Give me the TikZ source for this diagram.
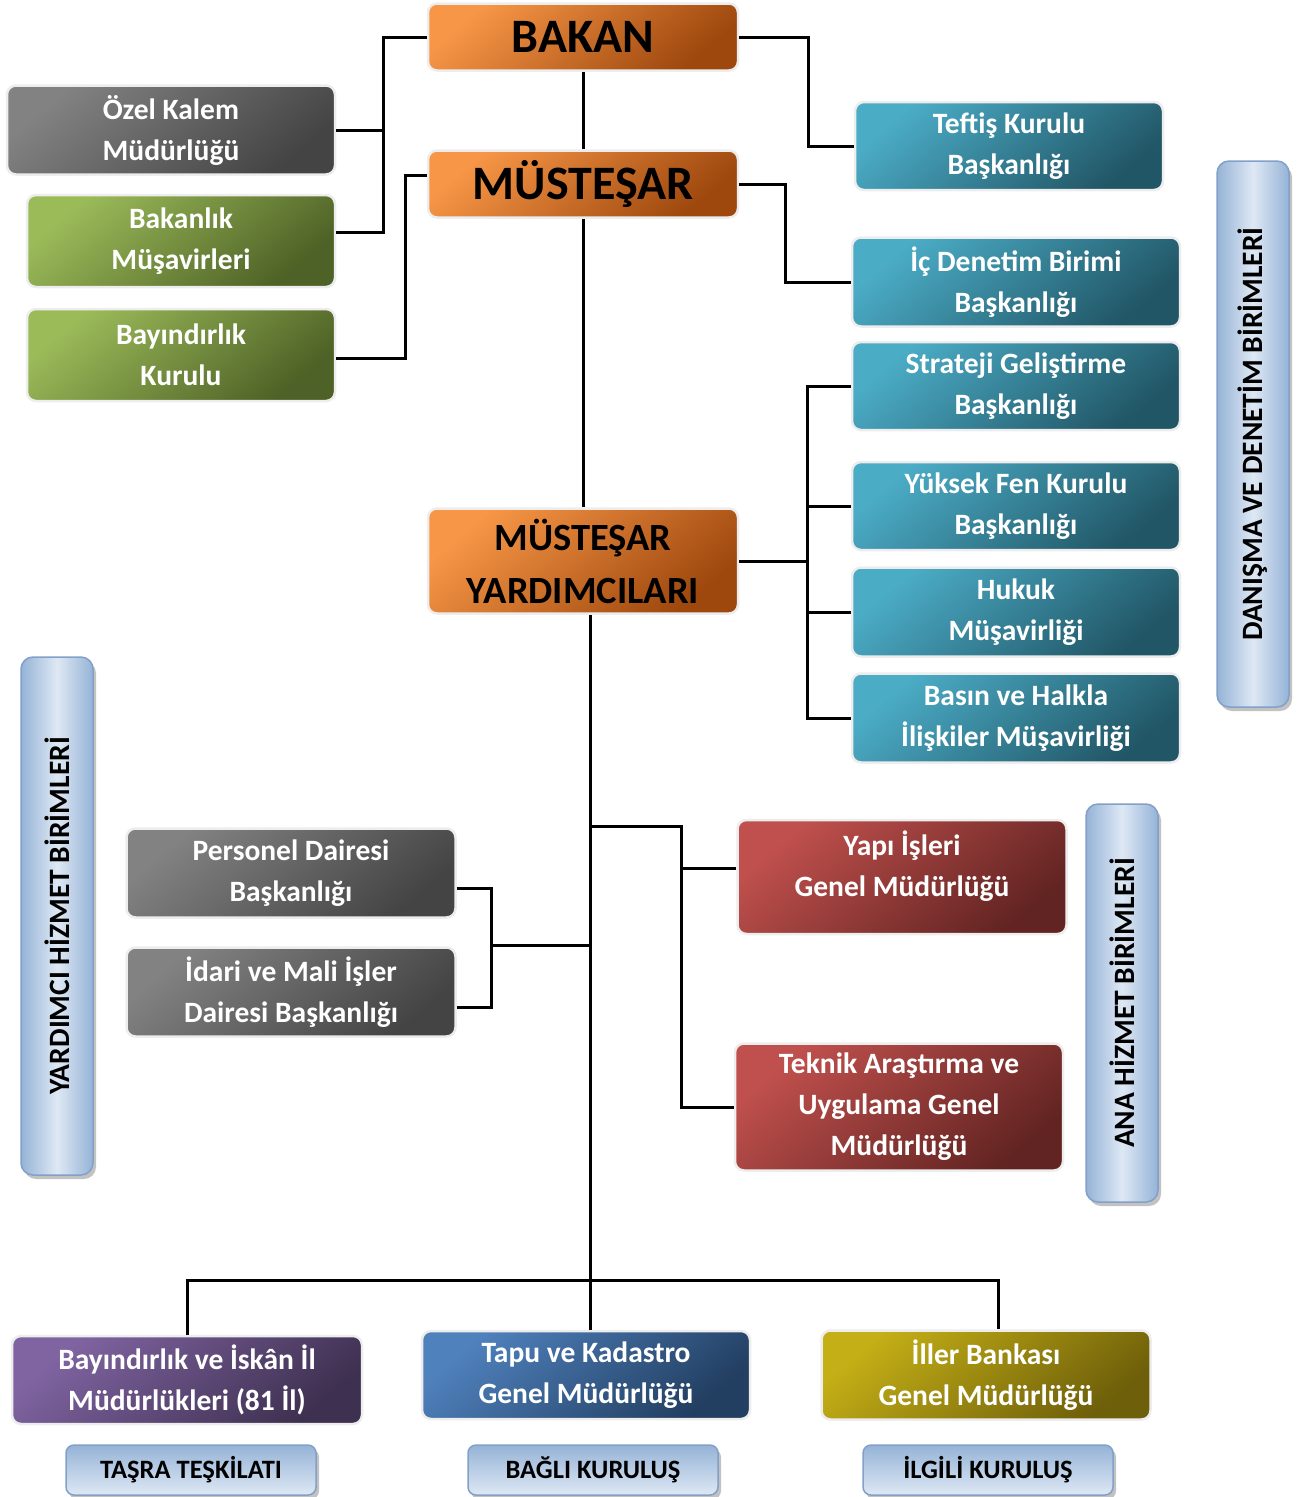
\documentclass[tikz,border=0pt]{standalone}
\usepackage{fontspec}
\setmainfont{Carlito}
\usetikzlibrary{calc, shadows}
\definecolor{orangeLight}{RGB}{247, 150, 70}
\definecolor{orangeDark}{RGB}{158, 72, 14}
\definecolor{greyLight}{RGB}{130, 130, 130}
\definecolor{greyDark}{RGB}{68, 68, 68}
\definecolor{greenLight}{RGB}{155, 187, 89}
\definecolor{greenDark}{RGB}{78, 97, 38}
\definecolor{tealLight}{RGB}{75, 172, 198}
\definecolor{tealDark}{RGB}{33, 86, 102}
\definecolor{redLight}{RGB}{192, 80, 77}
\definecolor{redDark}{RGB}{98, 36, 34}
\definecolor{purpleLight}{RGB}{128, 100, 162}
\definecolor{purpleDark}{RGB}{62, 48, 80}
\definecolor{blueLight}{RGB}{79, 129, 189}
\definecolor{blueDark}{RGB}{34, 62, 96}
\definecolor{oliveLight}{RGB}{196, 175, 22}
\definecolor{oliveDark}{RGB}{110, 95, 10}
\definecolor{barEdge}{RGB}{149, 179, 215}
\definecolor{barMid}{RGB}{222, 232, 244}
\definecolor{barLine}{RGB}{130, 160, 200}

\begin{document}
\begin{tikzpicture} [x=1pt, y=-1pt,
        unit/.style={rectangle, rounded corners=9pt, draw=black!7, line width=2.5pt, align=center,
            inner sep=0pt, text=white, font=\bfseries\fontsize{29.5}{41}\selectfont},
        wh/.style 2 args={minimum width=#1pt, minimum height=#2pt},
        chief/.style={unit, top color=orangeLight, bottom color=orangeDark, shading angle=40, text=black,
            font=\bfseries\fontsize{48}{50}\selectfont},
        greybox/.style={unit, top color=greyLight, bottom color=greyDark, shading angle=40},
        greenbox/.style={unit, top color=greenLight, bottom color=greenDark, shading angle=40},
        tealbox/.style={unit, top color=tealLight, bottom color=tealDark, shading angle=40},
        redbox/.style={unit, top color=redLight, bottom color=redDark, shading angle=40},
        purplebox/.style={unit, top color=purpleLight, bottom color=purpleDark, shading angle=40},
        bluebox/.style={unit, top color=blueLight, bottom color=blueDark, shading angle=40},
        olivebox/.style={unit, top color=oliveLight, bottom color=oliveDark, shading angle=40},
        sidebar/.style={rectangle, rounded corners=12pt, draw=barLine, line width=1.5pt,
            left color=barEdge, right color=barEdge, middle color=barMid, inner sep=0pt,
            drop shadow={shadow xshift=3pt, shadow yshift=-4pt, fill=black!60, opacity=0.4},
            font=\bfseries\fontsize{29.5}{30}\selectfont},
        tagbar/.style={rectangle, rounded corners=8pt, draw=barLine, line width=1.5pt,
            top color=barEdge, bottom color=barMid, inner sep=0pt, minimum width=250pt, minimum height=50pt,
            drop shadow={shadow xshift=3pt, shadow yshift=-4pt, fill=black!60, opacity=0.4},
            font=\bfseries\fontsize{26.5}{28}\selectfont},
        link/.style={draw=black, line width=3pt}
    ]
        \useasboundingbox (0, 0) rectangle (1301, 1497);

        % top level
        \node [chief, wh={310}{67}] (bakan) at (583, 37) {BAKAN};
        \node [chief, wh={310}{67}] (mustesar) at (583, 184) {MÜSTEŞAR};
        \node [chief, wh={310}{105}, font=\bfseries\fontsize{38.5}{53}\selectfont] (yardimci) at (583, 561) {MÜSTEŞAR\\YARDIMCILARI};

        % left of the minister
        \node [greybox, wh={328}{89}] (ozel) at (171, 130) {Özel Kalem\\Müdürlüğü};
        \node [greenbox, wh={308}{92}] (musavir) at (181, 241) {Bakanlık\\Müşavirleri};
        \node [greenbox, wh={308}{92}] (kurul) at (181, 355) {Bayındırlık\\Kurulu};

        % danisma ve denetim
        \node [tealbox, wh={308}{88}] (teftis) at (1009, 146) {Teftiş Kurulu\\Başkanlığı};
        \node [tealbox, wh={328}{89}] (icdenetim) at (1016, 282) {İç Denetim Birimi\\Başkanlığı};
        \node [tealbox, wh={328}{88}] (strateji) at (1016, 386) {Strateji Geliştirme\\Başkanlığı};
        \node [tealbox, wh={328}{88}] (yuksek) at (1016, 506) {Yüksek Fen Kurulu\\Başkanlığı};
        \node [tealbox, wh={328}{89}] (hukuk) at (1016, 612) {Hukuk\\Müşavirliği};
        \node [tealbox, wh={328}{89}] (basin) at (1016, 718) {Basın ve Halkla\\İlişkiler Müşavirliği};

        % ana hizmet
        \node [redbox, wh={329}{114}] (yapi) at (902, 877) {Yapı İşleri\\Genel Müdürlüğü\\[-15pt]};
        \node [redbox, wh={328}{127}] (teknik) at (899, 1107) {Teknik Araştırma ve\\Uygulama Genel\\Müdürlüğü};

        % yardimci hizmet
        \node [greybox, wh={329}{89}] (personel) at (291, 873) {Personel Dairesi\\Başkanlığı};
        \node [greybox, wh={329}{89}] (idari) at (291, 992) {İdari ve Mali İşler\\Dairesi Başkanlığı};

        % tasra, bagli, ilgili
        \node [purplebox, wh={350}{88}] (iskan) at (187, 1380) {Bayındırlık ve İskân İl\\Müdürlükleri (81 İl)};
        \node [bluebox, wh={328}{88}] (tapu) at (586, 1375) {Tapu ve Kadastro\\Genel Müdürlüğü};
        \node [olivebox, wh={329}{89}] (iller) at (986, 1375) {İller Bankası\\Genel Müdürlüğü};

        % group labels
        \node [sidebar, wh={72}{546}] (danisma) at (1253, 434) {\rotatebox{90}{DANIŞMA VE DENETİM BİRİMLERİ}};
        \node [sidebar, wh={72}{398}] (anahizmet) at (1122, 1003) {\rotatebox{90}{ANA HİZMET BİRİMLERİ}};
        \node [sidebar, wh={72}{518}] (yardimcihizmet) at (57, 916) {\rotatebox{90}{YARDIMCI HİZMET BİRİMLERİ}};
        \node [tagbar] (tasra) at (191, 1470) {TAŞRA TEŞKİLATI};
        \node [tagbar] (bagli) at (593, 1470) {BAĞLI KURULUŞ};
        \node [tagbar] (ilgili) at (988, 1470) {İLGİLİ KURULUŞ};

        % connectors
        \coordinate (bL) at (382, 0);
        \coordinate (bR) at (808, 0);
        \coordinate (mR) at (785, 0);
        \coordinate (yR) at (807, 0);
        \coordinate (trunk) at (590, 0);
        \coordinate (aR) at (681, 826);
        \coordinate (pL) at (490, 945);
        \coordinate (bus) at (590, 1280);

        \draw [link] (bakan.west) -| ($ (musavir.east) + (47, -9) $) -- ($ (musavir.east) + (0, -9) $);
        \draw [link] (ozel.east) -- (ozel.east -| bL);
        \draw [link] ([yshift=9pt]mustesar.west) -| ($ (kurul.east) + (69, 3) $) -- ($ (kurul.east) + (0, 3) $);
        \draw [link] (bakan.south) -- (mustesar.north);
        \draw [link] (bakan.east) -| (bR |- teftis.west) -- (teftis.west);
        \draw [link] (mustesar.east) -| (mR |- icdenetim.west) -- (icdenetim.west);
        \draw [link] (mustesar.south) -- (yardimci.north);

        \draw [link] (yardimci.east) -- (yardimci.east -| yR);
        \draw [link] (strateji.west) -| (yR |- basin.west) -- (basin.west);
        \foreach \n in {yuksek, hukuk} {
            \draw [link] (\n.west) -- (\n.west -| yR);
        }

        \draw [link] (yardimci.south -| trunk) -- (tapu.north -| trunk);
        \draw [link] (trunk |- aR) -- (aR) |- (teknik.west);
        \draw [link] ([yshift=9pt]yapi.west) -- ([yshift=9pt]yapi.west -| aR);
        \draw [link] (trunk |- pL) -- (pL);
        \draw [link] ($ (personel.east) + (0, 15) $) -| ($ (idari.east) + (35, 15) $) -- ($ (idari.east) + (0, 15) $);

        \draw [link] (iskan.north) |- ($ (iller.north |- bus) + (12, 0) $) -- ($ (iller.north) + (12, 0) $);
\end{tikzpicture}
\end{document}
